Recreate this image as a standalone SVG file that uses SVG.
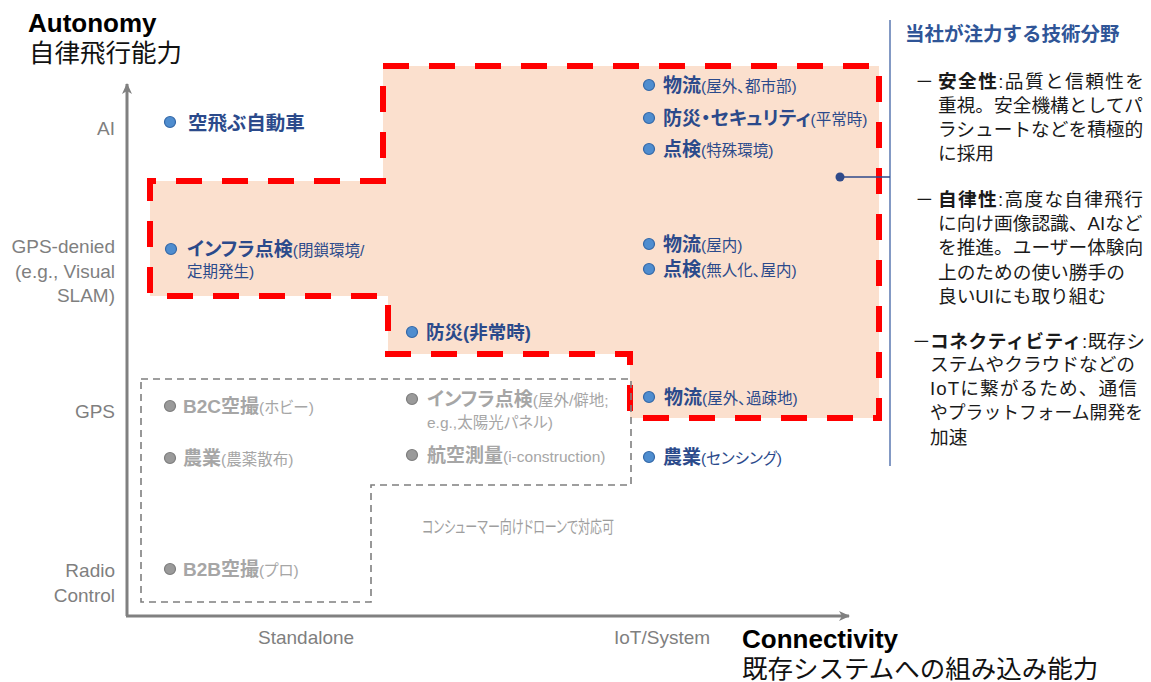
<svg xmlns="http://www.w3.org/2000/svg" width="1151" height="682" viewBox="0 0 1151 682">
<defs>
<style>
text{font-family:"Liberation Sans","Noto Sans CJK JP",sans-serif}
.t{fill:#000;font-weight:bold;font-size:26px}
.tj{fill:#111;font-size:25.5px}
.ax{fill:#7f7f7f;font-size:19px}
.lb{fill:#2B4A8B;font-size:19px;font-feature-settings:"palt"}
.lg{fill:#A6A6A6;font-size:19px;font-feature-settings:"palt"}
.b{font-weight:bold}
.p{font-size:15.5px;font-weight:normal}
.db{fill:#4F8DCF;stroke:#3468A8;stroke-width:1.2}
.dg{fill:#9a9a9a;stroke:#7d7d7d;stroke-width:1.2}
.rc{fill:#1a1a1a;font-size:18.7px}
.rh{fill:#2F5597;font-size:19.5px;font-weight:bold}
.axis{stroke:#808080;stroke-width:3;fill:none}
</style>
<marker id="arr" markerUnits="userSpaceOnUse" markerWidth="12" markerHeight="10" refX="10" refY="5" orient="auto">
<path d="M0,0 L11,5 L0,10 L3,5 Z" fill="#808080"/>
</marker>
</defs>
<rect width="1151" height="682" fill="#fff"/>

<g id="focus-region">
<path d="M383,66 H879 V418 H630 V354 H388 V296 H150 V181 H383 Z" fill="#FBE0CE" stroke="#FF0000" stroke-width="6" stroke-dasharray="26 20"/>
</g>
<g id="consumer-region">
<path d="M141,379 H631 V485 H371 V602 H141 Z" fill="none" stroke="#7f7f7f" stroke-width="1.6" stroke-dasharray="7 5"/>
<text class="lg" x="422" y="533" textLength="192" lengthAdjust="spacingAndGlyphs" style="font-size:17px;fill:#9E9E9E">コンシューマー向けドローンで対応可</text>
</g>

<g id="axes">
<line class="axis" x1="127" y1="616" x2="127" y2="84" marker-end="url(#arr)"/>
<line class="axis" x1="126" y1="616" x2="849" y2="616" marker-end="url(#arr)"/>
<text class="t" x="28" y="32">Autonomy</text>
<text class="tj" x="29" y="62">自律飛行能力</text>
<text class="t" x="742" y="648">Connectivity</text>
<text class="tj" x="742" y="678">既存システムへの組み込み能力</text>
<g class="ax" text-anchor="end">
<text class="ax" x="115" y="135">AI</text>
<text class="ax" x="115" y="253">GPS-denied</text>
<text class="ax" x="115" y="278">(e.g., Visual</text>
<text class="ax" x="115" y="302">SLAM)</text>
<text class="ax" x="115" y="418">GPS</text>
<text class="ax" x="115" y="577">Radio</text>
<text class="ax" x="115" y="602">Control</text>
</g>
<text class="ax" x="258" y="644">Standalone</text>
<text class="ax" x="614" y="644">IoT/System</text>
</g>

<g id="n-butsuryu-toshi"><circle class="db" cx="649" cy="85" r="5.5"/><text class="lb" x="663" y="91.5"><tspan class="b">物流</tspan><tspan class="p">(屋外、都市部)</tspan></text></g>
<g id="n-bousai-security"><circle class="db" cx="649" cy="118" r="5.5"/><text class="lb" x="663" y="125"><tspan class="b">防災・セキュリティ</tspan><tspan class="p">(平常時)</tspan></text></g>
<g id="n-tenken-tokushu"><circle class="db" cx="649" cy="149" r="5.5"/><text class="lb" x="663" y="156"><tspan class="b">点検</tspan><tspan class="p">(特殊環境)</tspan></text></g>
<g id="n-butsuryu-okunai"><circle class="db" cx="649" cy="244" r="5.5"/><text class="lb" x="663" y="251"><tspan class="b">物流</tspan><tspan class="p">(屋内)</tspan></text></g>
<g id="n-tenken-mujin"><circle class="db" cx="649" cy="269" r="5.5"/><text class="lb" x="663" y="276"><tspan class="b">点検</tspan><tspan class="p">(無人化、屋内)</tspan></text></g>
<g id="n-butsuryu-kaso"><circle class="db" cx="649" cy="397" r="5.5"/><text class="lb" x="664" y="404"><tspan class="b">物流</tspan><tspan class="p">(屋外、過疎地)</tspan></text></g>
<g id="n-nougyou-sensing"><circle class="db" cx="649" cy="457" r="5.5"/><text class="lb" x="663" y="464"><tspan class="b">農業</tspan><tspan class="p">(センシング)</tspan></text></g>
<g id="n-infra-heisa"><circle class="db" cx="171" cy="249" r="5.5"/><text class="lb" x="187" y="256"><tspan class="b">インフラ点検</tspan><tspan class="p">(閉鎖環境/</tspan></text><text class="lb p" x="187" y="277">定期発生)</text></g>
<g id="n-bousai-hijou"><circle class="db" cx="412" cy="332" r="5.5"/><text class="lb b" x="426" y="339" style="font-size:18.5px">防災(非常時)</text></g>
<g id="n-soratobu"><circle class="db" cx="170" cy="122" r="5.5"/><text class="lb b" x="188" y="129.5" style="font-size:19.5px">空飛ぶ自動車</text></g>
<g id="n-b2c"><circle class="dg" cx="170" cy="406" r="5.5"/><text class="lg" x="183" y="413"><tspan class="b">B2C空撮</tspan><tspan class="p">(ホビー)</tspan></text></g>
<g id="n-nougyou-sanpu"><circle class="dg" cx="170" cy="458" r="5.5"/><text class="lg" x="183" y="465"><tspan class="b">農業</tspan><tspan class="p">(農薬散布)</tspan></text></g>
<g id="n-b2b"><circle class="dg" cx="170" cy="569" r="5.5"/><text class="lg" x="183" y="576"><tspan class="b">B2B空撮</tspan><tspan class="p">(プロ)</tspan></text></g>
<g id="n-infra-okugai"><circle class="dg" cx="412" cy="399" r="5.5"/><text class="lg" x="427" y="406"><tspan class="b">インフラ点検</tspan><tspan class="p">(屋外/僻地;</tspan></text><text class="lg p" x="427" y="428">e.g.,太陽光パネル)</text></g>
<g id="n-kouku"><circle class="dg" cx="412" cy="455" r="5.5"/><text class="lg" x="427" y="462"><tspan class="b">航空測量</tspan><tspan class="p">(i-construction)</tspan></text></g>

<g id="focus-areas">
<text class="rh" x="905" y="41">当社が注力する技術分野</text>
<text class="rc" x="915" y="88">－</text>
<text class="rc" x="938" y="88" textLength="206"><tspan class="b">安全性</tspan>:品質と信頼性を</text>
<text class="rc" x="938" y="112">重視。安全機構としてパ</text>
<text class="rc" x="938" y="136">ラシュートなどを積極的</text>
<text class="rc" x="938" y="160">に採用</text>
<text class="rc" x="915" y="206">－</text>
<text class="rc" x="938" y="206" textLength="205"><tspan class="b">自律性</tspan>:高度な自律飛行</text>
<text class="rc" x="938" y="230">に向け画像認識、AIなど</text>
<text class="rc" x="938" y="254">を推進。ユーザー体験向</text>
<text class="rc" x="938" y="279">上のための使い勝手の</text>
<text class="rc" x="938" y="303">良いUIにも取り組む</text>
<text class="rc" x="912" y="348">－</text>
<text class="rc" x="930" y="348" textLength="215"><tspan class="b">コネクティビティ</tspan>:既存シ</text>
<text class="rc" x="930" y="371">ステムやクラウドなどの</text>
<text class="rc" x="930" y="395" textLength="207">IoTに繋がるため、通信</text>
<text class="rc" x="930" y="419" textLength="213" lengthAdjust="spacingAndGlyphs" style="font-size:18px">やプラットフォーム開発を</text>
<text class="rc" x="930" y="444">加速</text>
</g>

<g id="connectors">
<line x1="890" y1="20" x2="890" y2="466" stroke="#5A77B0" stroke-width="1.5"/>
<line x1="840" y1="177" x2="890" y2="177" stroke="#2F4A8A" stroke-width="1.5"/>
<circle cx="840" cy="177" r="4.5" fill="#2F4A8A"/>
</g>
</svg>
